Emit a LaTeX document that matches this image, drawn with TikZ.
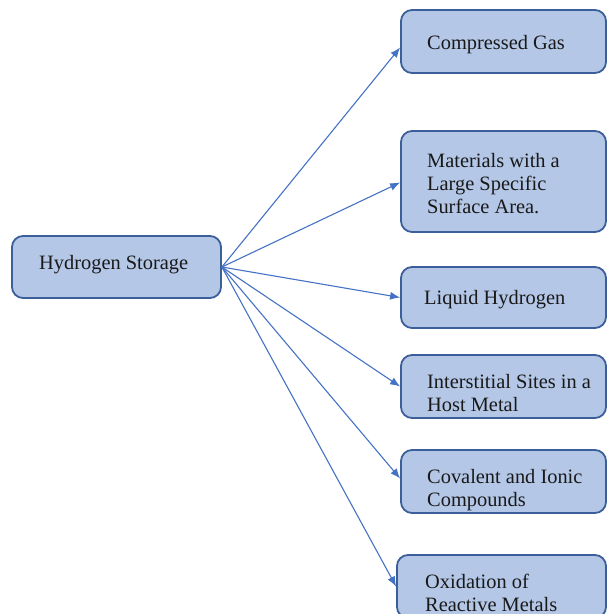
\documentclass[tikz,border=0pt]{standalone}
\usepackage{fontspec}
\setmainfont{Liberation Serif}
\usetikzlibrary{arrows.meta}
\definecolor{boxfill}{HTML}{B4C7E7}
\definecolor{boxline}{HTML}{3A5F9A}
\definecolor{arrowc}{HTML}{4472C4}
\tikzset{
  box/.style={draw=boxline, line width=1.8pt, fill=boxfill, rounded corners=11pt, inner sep=0pt},
  lbl/.style={anchor=base west, align=left, inner sep=0pt, text=black!90, font=\fontsize{20.4}{23}\selectfont},
  arr/.style={draw=arrowc, line width=1.1pt, -{Latex[length=10pt,width=8pt]}}
}
\begin{document}
\begin{tikzpicture}[x=1pt,y=-1pt]
\useasboundingbox (0,0) rectangle (607,614);
\clip (0,0) rectangle (607,614);
\node[box, minimum width=209pt, minimum height=62pt] (hs) at (116.5,267) {};
\node[box, minimum width=205pt, minimum height=63pt] (cg) at (503.5,41.5) {};
\node[box, minimum width=205pt, minimum height=101pt] (mat) at (503.5,181.5) {};
\node[box, minimum width=205pt, minimum height=61pt] (lh) at (503.5,297.5) {};
\node[box, minimum width=205pt, minimum height=63pt] (is) at (503.5,386.5) {};
\node[box, minimum width=205pt, minimum height=63pt] (cv) at (503.5,481.5) {};
\node[box, minimum width=209pt, minimum height=63pt] (ox) at (501.5,586.5) {};

% base anchor of multi-line labels is the baseline of the last line
\node[lbl] (hst) at (39,269) {Hydrogen Storage};
\node[lbl] (cgt) at (427,49) {Compressed Gas};
\node[lbl] (matt) at (427,213) {Materials with a\\Large Specific\\Surface Area.};
\node[lbl] (lht) at (424,304) {Liquid Hydrogen};
\node[lbl] (ist) at (427,411) {Interstitial Sites in a\\Host Metal};
\node[lbl] (cvt) at (427,506) {Covalent and Ionic\\Compounds};
\node[lbl] (oxt) at (425,611) {Oxidation of\\Reactive Metals};

\draw[arr] (hs.east) -- ([yshift=-6pt]cg.west);
\draw[arr] (hs.east) -- ([yshift=-1pt]mat.west);
\draw[arr] (hs.east) -- (lh.west);
\draw[arr] (hs.east) -- (is.west);
\draw[arr] (hs.east) -- ([yshift=3pt]cv.west);
\draw[arr] (hs.east) -- (ox.west);
\end{tikzpicture}
\end{document}
